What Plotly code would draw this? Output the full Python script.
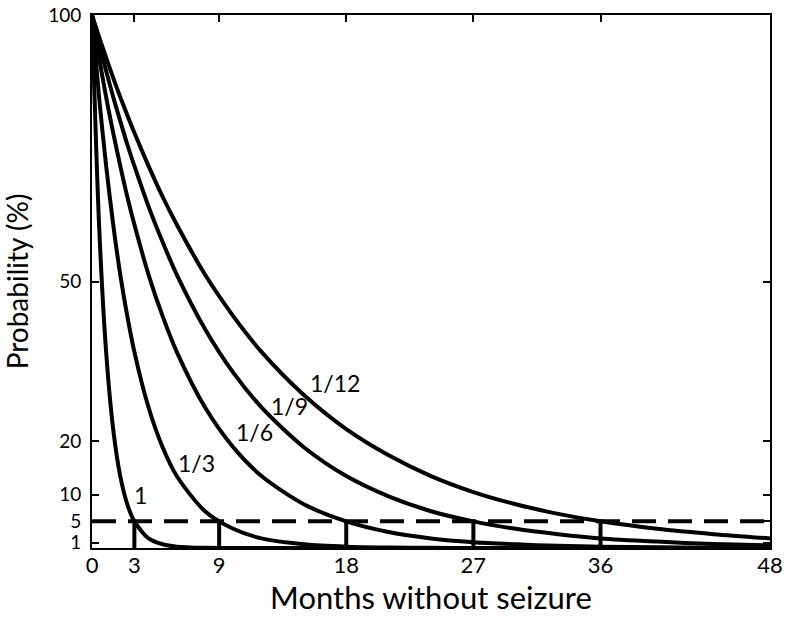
import plotly.graph_objects as go

# Months sampled along each curve
months = [0, 0.5, 1, 1.5, 2, 2.5, 3, 4, 5, 6, 8, 10, 12, 15, 18, 21, 24, 27, 30, 33, 36, 40, 44, 48]

# Probability (%) (label = monthly seizure rate)
p_rate_1 = [100, 60.7, 36.8, 22.3, 13.5, 8.2, 5.0, 1.8, 0.7, 0.25, 0.03, 0, 0, 0, 0, 0, 0, 0, 0, 0, 0, 0, 0, 0]
p_rate_1_3 = [100, 84.6, 71.7, 60.7, 51.3, 43.5, 36.8, 26.4, 18.9, 13.5, 6.9, 3.6, 1.8, 0.7, 0.25, 0.09, 0.03, 0.01, 0, 0, 0, 0, 0, 0]
p_rate_1_6 = [100, 92.0, 84.6, 77.9, 71.7, 65.9, 60.7, 51.3, 43.5, 36.8, 26.4, 18.9, 13.5, 8.2, 5.0, 3.0, 1.8, 1.1, 0.7, 0.4, 0.25, 0.13, 0.07, 0.03]
p_rate_1_9 = [100, 94.6, 89.5, 84.6, 80.1, 75.7, 71.7, 64.1, 57.4, 51.3, 41.1, 32.9, 26.4, 18.9, 13.5, 9.7, 6.9, 5.0, 3.6, 2.6, 1.8, 1.2, 0.75, 0.48]
p_rate_1_12 = [100, 95.9, 92.0, 88.2, 84.6, 81.2, 77.9, 71.7, 65.9, 60.7, 51.3, 43.5, 36.8, 28.7, 22.3, 17.4, 13.5, 10.5, 8.2, 6.4, 5.0, 3.6, 2.6, 1.8]

series = [p_rate_1, p_rate_1_3, p_rate_1_6, p_rate_1_9, p_rate_1_12]

# Curve labels and their positions (months, %)
curve_labels = ["1", "1/3", "1/6", "1/9", "1/12"]
label_x = [3.4, 7.4, 11.5, 14.0, 17.2]
label_y = [10.0, 15.9, 21.7, 26.6, 30.9]

# 5% threshold and months at which each curve reaches it
threshold = 5
threshold_months = [3, 9, 18, 27, 36]

x_ticks = [0, 3, 9, 18, 27, 36, 48]
y_ticks = [1, 5, 10, 20, 50, 100]

FONT = "Lato, 'Open Sans', sans-serif"

fig = go.Figure()

for vals in series:
    fig.add_trace(go.Scatter(
        x=months, y=vals, mode="lines",
        line=dict(color="black", width=4, shape="spline", smoothing=0.8),
        cliponaxis=False, hoverinfo="skip", showlegend=False))

# dashed 5% line
fig.add_trace(go.Scatter(
    x=[0, 48], y=[threshold, threshold], mode="lines",
    line=dict(color="black", width=4, dash="24px,12px"),
    hoverinfo="skip", showlegend=False))

# vertical markers
vx, vy = [], []
for m in threshold_months:
    vx += [m, m, None]
    vy += [0, threshold, None]
fig.add_trace(go.Scatter(
    x=vx, y=vy, mode="lines",
    line=dict(color="black", width=4),
    cliponaxis=False, hoverinfo="skip", showlegend=False))

for t, x, y in zip(curve_labels, label_x, label_y):
    fig.add_annotation(x=x, y=y, text=t, showarrow=False,
                       font=dict(family=FONT, size=23, color="black"))

fig.update_layout(
    width=790, height=632,
    margin=dict(l=92, r=20, t=15, b=84),
    paper_bgcolor="white", plot_bgcolor="white",
    font=dict(family=FONT, color="black"),
)

fig.update_xaxes(
    range=[0, 48], tickvals=x_ticks, ticktext=[str(v) for v in x_ticks],
    ticks="inside", ticklen=7, tickwidth=2, tickcolor="black",
    showline=True, linecolor="black", linewidth=2, mirror="ticks",
    showgrid=False, zeroline=False, automargin=False,
    tickfont=dict(family=FONT, size=22, color="black"),
    ticklabelstandoff=-3,
    title=dict(text="Months without seizure", font=dict(family=FONT, size=31, color="black"), standoff=10),
)
fig.update_yaxes(
    range=[0, 100], tickvals=y_ticks, ticktext=[str(v) for v in y_ticks],
    ticks="inside", ticklen=7, tickwidth=2, tickcolor="black",
    showline=True, linecolor="black", linewidth=2, mirror="ticks",
    showgrid=False, zeroline=False, automargin=False,
    tickfont=dict(family=FONT, size=19, color="black"),
    ticklabelstandoff=5,
    title=dict(text="Probability (%)", font=dict(family=FONT, size=28, color="black"), standoff=16),
)

fig.write_html("out.html", config={"displayModeBar": False},
               post_script="document.body.style.margin='0';")
